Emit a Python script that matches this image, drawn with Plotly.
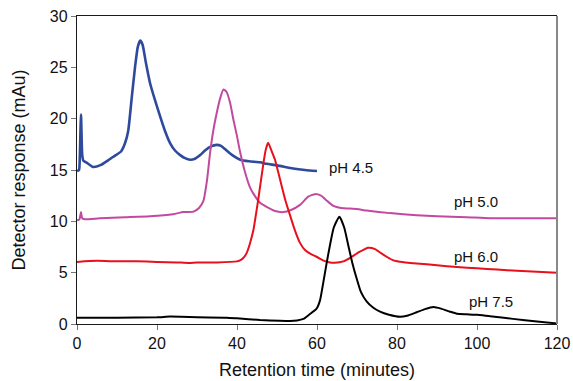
import plotly.graph_objects as go

# pH 4.5 (blue)
x_45 = [0, 0.5, 0.7, 1.0, 1.3, 1.6, 2.5, 4, 6, 8, 9.5, 11, 12, 12.8, 13.7, 14.5, 15.2, 15.8, 16.4, 17.2,
        18.3, 19.5, 20.8, 22, 23.3, 24.5, 25.8, 27, 28.3, 29.5, 30.8, 32, 33.5, 34.9, 36, 37.4, 39, 40.8,
        43, 45.8, 47.4, 50, 54, 57, 60]
y_45 = [14.9, 15.0, 16.3, 20.4, 16.5, 15.9, 15.7, 15.3, 15.5, 16.0, 16.4, 16.8, 17.6, 18.8, 22.1, 25.0,
        27.0, 27.6, 27.2, 25.5, 23.4, 21.8, 20.2, 18.8, 17.6, 16.9, 16.45, 16.15, 16.0, 16.1, 16.45, 16.9,
        17.3, 17.45, 17.35, 16.9, 16.4, 16.0, 15.85, 15.75, 15.6, 15.45, 15.15, 15.0, 14.9]

# pH 5.0 (magenta)
x_50 = [0, 0.6, 1.0, 1.3, 2, 5.75, 12, 18.25, 24, 26.6, 29.1, 30.5, 31.6, 32.5, 33.25, 34.1, 34.9, 35.8,
        36.6, 37.4, 38.3, 39.1, 40, 40.75, 42, 43.25, 44.1, 45.75, 47.4, 49.5, 51.6, 53.5, 55.75, 57.8,
        59.5, 61, 62.5, 64.1, 66, 69.9, 72.4, 78.25, 84.9, 90, 97.4, 103.25, 110, 120]
y_50 = [10.1, 10.2, 10.9, 10.3, 10.2, 10.3, 10.4, 10.5, 10.7, 10.9, 10.95, 11.3, 12.0, 14.0, 16.6, 18.9,
        20.5, 22.0, 22.85, 22.6, 21.5, 19.9, 18.3, 16.8, 14.8, 13.3, 12.7, 11.8, 11.4, 11.0, 10.9, 11.1,
        11.6, 12.4, 12.65, 12.5, 12.0, 11.5, 11.3, 11.2, 11.05, 10.8, 10.6, 10.5, 10.4, 10.3, 10.3, 10.3]

# pH 6.0 (red)
x_60 = [0, 5, 10, 15, 20, 25, 28, 30, 35, 40, 40.75, 41.5, 42.4, 43.2, 44.1, 45.3, 46.6, 47.2, 47.8, 48.6,
        49.5, 50.3, 51.2, 52.2, 53.25, 54.5, 55.75, 57, 58.5, 59.9, 61.5, 63.25, 64.5, 66.6, 68.5, 70.5,
        72.8, 74.5, 76, 77.4, 79.1, 80.75, 84.9, 90, 95, 100, 105, 110, 120]
y_60 = [6.05, 6.15, 6.1, 6.1, 6.05, 6.0, 5.95, 6.0, 6.0, 6.1, 6.2, 6.4, 6.9, 7.8, 9.15, 12.1, 15.65, 17.0,
        17.65, 16.9, 16.0, 14.8, 13.4, 11.9, 10.6, 9.1, 7.9, 7.2, 6.8, 6.55, 6.2, 6.0, 5.97, 6.1, 6.5, 7.0,
        7.43, 7.3, 6.9, 6.55, 6.2, 6.07, 5.9, 5.72, 5.55, 5.42, 5.3, 5.18, 5.0]

# pH 7.5 (black)
x_75 = [0, 10, 20, 23.25, 26, 30, 37.4, 40, 45.75, 50.75, 53.25, 55, 56.6, 58, 59.9, 60.75, 61.6, 62.4,
        63.25, 64.2, 65.6, 66.8, 67.8, 68.8, 69.9, 71, 72.4, 74, 75.75, 78, 80.75, 82.5, 84.9, 87, 89.1,
        91, 93.25, 95, 97.4, 100, 103.25, 109, 115, 120]
y_75 = [0.62, 0.62, 0.65, 0.72, 0.7, 0.65, 0.62, 0.55, 0.39, 0.32, 0.3, 0.35, 0.5, 0.9, 1.5, 2.3, 4.1, 5.9,
        7.7, 9.4, 10.45, 9.4, 7.7, 6.0, 4.45, 3.1, 2.2, 1.6, 1.2, 0.9, 0.7, 0.8, 1.14, 1.45, 1.65, 1.5,
        1.2, 1.0, 0.95, 0.9, 0.75, 0.5, 0.25, 0.05]

series_names = ["pH 4.5", "pH 5.0", "pH 6.0", "pH 7.5"]
label_x = [62.4, 93.7, 93.7, 97.4]
label_y = [15.2, 11.9, 6.6, 2.2]

x_ticks = [0, 20, 40, 60, 80, 100, 120]
y_ticks = [0, 5, 10, 15, 20, 25, 30]

colors = ["#2E4A9C", "#C24A9E", "#E8101C", "#000000"]
widths = [2.6, 2.0, 2.0, 2.0]

fig = go.Figure()
for xs, ys, name, c, w in zip([x_45, x_50, x_60, x_75], [y_45, y_50, y_60, y_75],
                              series_names, colors, widths):
    fig.add_trace(go.Scatter(x=xs, y=ys, mode="lines", name=name,
                             line=dict(color=c, width=w, shape="spline", smoothing=0.5),
                             hoverinfo="skip"))

for name, lx, ly in zip(series_names, label_x, label_y):
    fig.add_annotation(x=lx, y=ly, text=name, showarrow=False, xanchor="left", yanchor="middle",
                       font=dict(size=15, color="#111111"))

font_family = "Liberation Sans, Arial, sans-serif"
fig.update_layout(
    width=573, height=381,
    margin=dict(l=77, r=16, t=16, b=57),
    paper_bgcolor="white", plot_bgcolor="white",
    showlegend=False,
    font=dict(family=font_family, color="#111111"),
)
fig.update_xaxes(range=[0, 120], tickvals=x_ticks, showgrid=False, zeroline=False,
                 showline=True, linecolor="#1a1a1a", linewidth=1.3, mirror=True,
                 ticks="outside", ticklen=5, tickcolor="#777777",
                 tickfont=dict(size=16), automargin=False,
                 title=dict(text="Retention time (minutes)", font=dict(size=18), standoff=12))
fig.update_yaxes(range=[0, 30], tickvals=y_ticks, showgrid=False, zeroline=False,
                 showline=True, linecolor="#1a1a1a", linewidth=1.3,
                 ticks="outside", ticklen=5, tickcolor="#777777",
                 tickfont=dict(size=16), automargin=False,
                 title=dict(text="Detector response (mAu)", font=dict(size=18), standoff=19))
fig.add_shape(type="line", xref="paper", yref="paper", x0=1, x1=1, y0=0, y1=1,
              line=dict(color="#888888", width=2))

fig.write_html("out.html", config={"displayModeBar": False},
               post_script="document.body.style.margin='0';document.body.style.overflow='hidden';")
